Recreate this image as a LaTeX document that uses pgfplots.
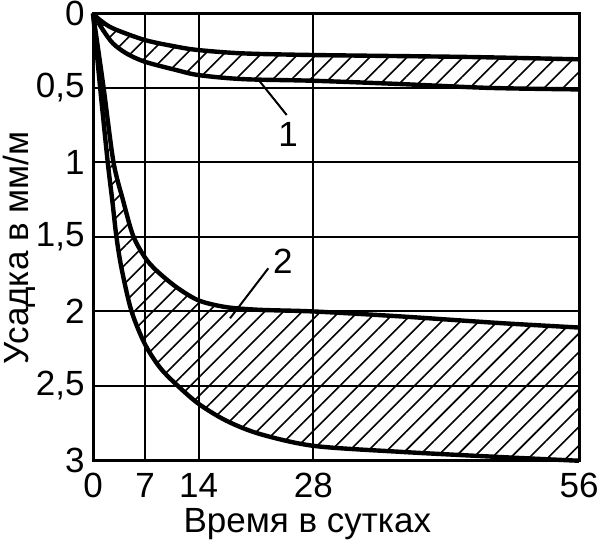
\documentclass[border=0pt]{standalone}
\usepackage{fontspec}
\setmainfont{Liberation Sans}
\usepackage{pgfplots}
\pgfplotsset{compat=1.18}
\usepgfplotslibrary{fillbetween}
\usetikzlibrary{patterns.meta}
\begin{document}
\begin{tikzpicture}
\begin{axis}[
  name=ax,
  scale only axis, width=243pt, height=223.25pt,
  xmin=0, xmax=56, ymin=0, ymax=3, y dir=reverse,
  xtick={0,5.99,12.18,25.39,56}, xticklabels={0,7,14,28,56},
  ytick={0,0.5,1,1.5,2,2.5,3}, yticklabels={0,{0,5},1,{1,5},2,{2,5},3},
  grid=major, major grid style={black, line width=1pt},
  major tick length=0pt,
  axis line style={line width=1.5pt},
  /pgf/number format/assume math mode=true,
  tick label style={font=\fontsize{17.5}{20}\selectfont},
  yticklabel style={inner sep=0pt, xshift=-4pt},
  xticklabel style={inner sep=0pt, yshift=-6.5pt},
  xlabel={Время в сутках}, ylabel={Усадка в мм/м},
  label style={font=\fontsize{17.5}{20}\selectfont, inner sep=0pt},
  xlabel style={at={(axis description cs:0.441,-0.1630)}, anchor=base},
  ylabel style={at={(axis description cs:-0.1337,0.475)}, anchor=base},
  clip=false,
]
% band 1
\addplot[name path=a1, line width=2.2pt, smooth] coordinates {
(0,0) (0.81,0.044) (2.30,0.100) (5.96,0.178) (9.60,0.223) (12.18,0.246) (17.28,0.268) (25.43,0.279) (43.1,0.292) (56,0.308)};
\addplot[name path=b1, line width=2.2pt, smooth] coordinates {
(0,0) (1.15,0.111) (2.30,0.201) (3.84,0.268) (5.96,0.324) (9.60,0.380) (12.18,0.414) (17.28,0.441) (25.43,0.452) (35.4,0.474) (45.7,0.500) (56,0.51)};
% band 2
\addplot[name path=a2, line width=2.2pt, smooth] coordinates {
(0,0) (1.2,0.49) (2.35,0.995) (3.46,1.255) (4.61,1.491) (5.96,1.637) (7.29,1.726) (9.60,1.838) (12.18,1.928) (15.36,1.973) (19.21,1.991) (25.43,2.002) (35.4,2.035) (46.9,2.08) (56,2.11)};
\addplot[name path=b2, line width=2.2pt, smooth] coordinates {
(0,0) (0.81,0.49) (1.69,0.995) (2.22,1.255) (2.68,1.491) (3.26,1.704) (4.41,1.995) (5.96,2.219) (7.69,2.377) (9.61,2.493) (12.18,2.623) (15.36,2.736) (19.21,2.825) (25.43,2.905) (35.4,2.945) (46.9,2.98) (56,3.005)};
\addplot[pattern={Lines[angle=45,distance=6.6pt,line width=0.8pt]}, draw=none] fill between[of=a1 and b1];
\addplot[pattern={Lines[angle=45,distance=6.6pt,line width=0.8pt]}, draw=none] fill between[of=a2 and b2];
\draw[line width=1pt] (axis cs:19.24,0.458) -- (axis cs:22.32,0.682);
\node[font=\fontsize{17.5}{20}\selectfont] at (axis cs:22.47,0.816) {1};
\draw[line width=1pt] (axis cs:20.2,1.712) -- (axis cs:15.79,2.048);
\node[font=\fontsize{17.5}{20}\selectfont] at (axis cs:21.89,1.663) {2};
\end{axis}
\pgfresetboundingbox
\path[use as bounding box] ([shift={(-46.5pt,-39.5pt)}]ax.south west) rectangle ([shift={(10.5pt,6.75pt)}]ax.north east);
\end{tikzpicture}
\end{document}
